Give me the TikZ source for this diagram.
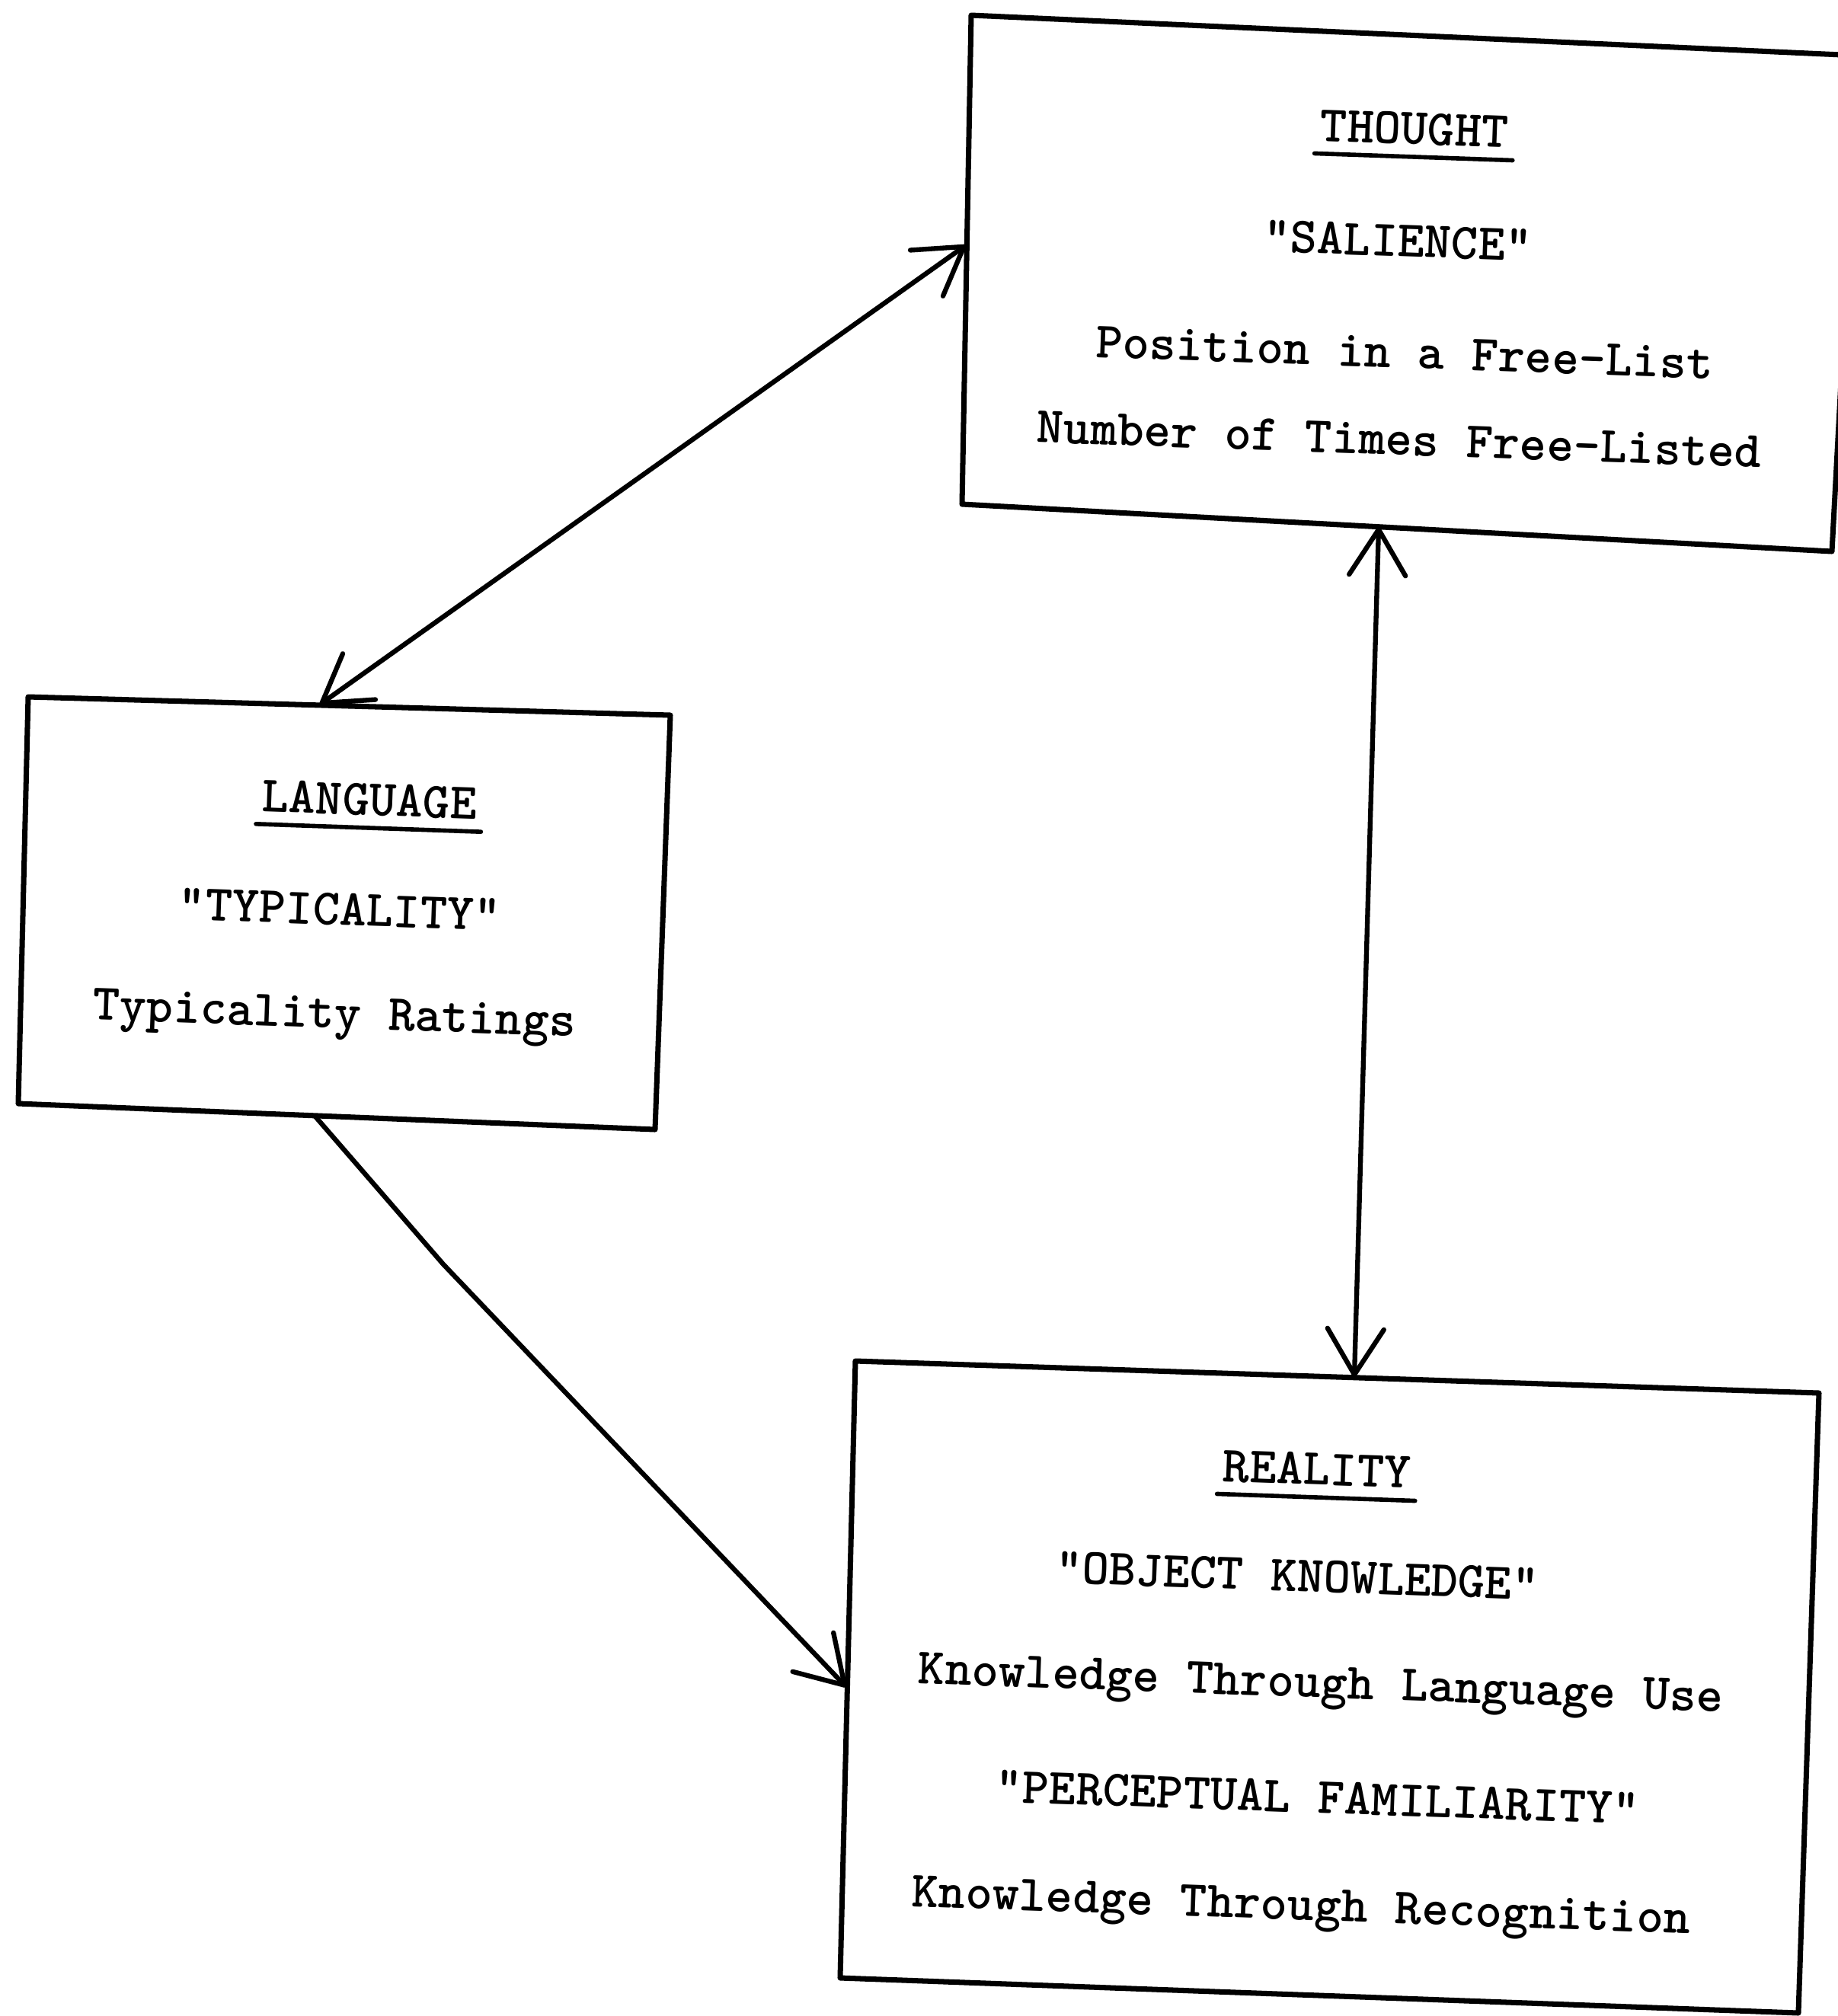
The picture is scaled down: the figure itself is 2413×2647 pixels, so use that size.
\documentclass[tikz,border=0pt]{standalone}
\usepackage{fontspec}
\usetikzlibrary{arrows.meta}
\begin{document}
\begin{tikzpicture}[x=0.01cm,y=-0.01cm,
  >={Straight Barb[length=6mm,width=7.4mm,round]},
  boxline/.style={line width=2pt,line join=round,line cap=round},
  conn/.style={line width=1.8pt,line join=round,line cap=round},
  txt/.style={font=\fontsize{19.1}{22}\selectfont\ttfamily\bfseries,rotate=-2,inner sep=0pt},
  headtxt/.style={txt,inner xsep=0.06cm,inner ysep=0.15cm},
  uline/.style={line width=1.6pt,line cap=round}]
\useasboundingbox (0,0) rectangle (2413,2647);
\fill[white] (0,0) rectangle (2413,2647);
\clip (0,0) rectangle (2413,2647);

% boxes
\draw[boxline] (1275,20) -- (2440,73) -- (2405,724) -- (1263,662) -- cycle;
\draw[boxline] (37,915) -- (880,939) -- (860,1483) -- (24,1449) -- cycle;
\draw[boxline] (1123,1787) -- (2388,1829) -- (2361,2643) -- (1103,2597) -- cycle;

% THOUGHT
\node[headtxt] (thH) at (1857,169) {THOUGHT};
\draw[uline] (thH.south west) -- (thH.south east);
\node[txt] (thS) at (1835,316) {"SALIENCE"};
\node[txt] (thP) at (1844,463) {Position in a Free-List};
\node[txt] (thN) at (1837,577) {Number of Times Free-Listed};

% LANGUAGE
\node[headtxt] (laH) at (485,1050) {LANGUAGE};
\draw[uline] (laH.south west) -- (laH.south east);
\node[txt] (laS) at (446,1194) {"TYPICALITY"};
\node[txt] (laR) at (439,1337) {Typicality Ratings};

% REALITY
\node[headtxt] (reH) at (1729,1929) {REALITY};
\draw[uline] (reH.south west) -- (reH.south east);
\node[txt] (reO) at (1703,2069) {"OBJECT KNOWLEDGE"};
\node[txt] (reL) at (1734,2216) {Knowledge Through Language Use};
\node[txt] (reP) at (1730,2360) {"PERCEPTUAL FAMILIARITY"};
\node[txt] (reR) at (1708,2508) {Knowledge Through Recognition};

% connector end points on the box edges
\coordinate (tA) at (1268,322);
\coordinate (lA) at (420,925);
\coordinate (tB) at (1810,692);
\coordinate (rA) at (1778,1808);
\coordinate (lB) at (414,1466);
\coordinate (bendA) at (582,1660);
\coordinate (rB) at (1111,2215);

\draw[conn,<->] (tA) -- (lA);
\draw[conn,<->] (tB) -- (rA);
\draw[conn,->] (lB) -- (bendA) -- (rB);
\end{tikzpicture}
\end{document}
